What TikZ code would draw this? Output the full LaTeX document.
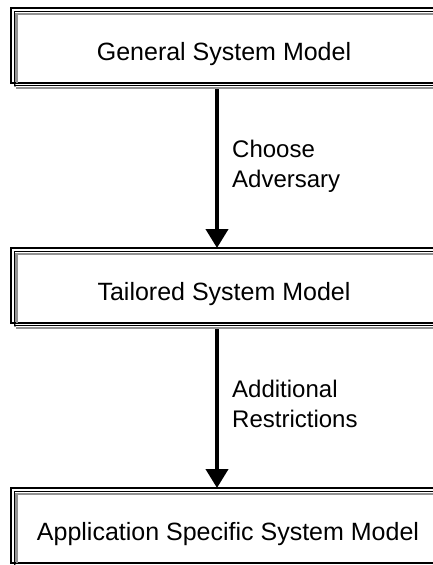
\documentclass[tikz,border=0pt]{standalone}
\usepackage{fontspec}
\setmainfont{Liberation Sans}
\usetikzlibrary{arrows.meta}
\tikzset{
  boxtext/.style={anchor=base, inner sep=0pt, font=\fontsize{25}{30}\selectfont},
  sidetext/.style={anchor=base west, inner sep=0pt, font=\fontsize{24}{29}\selectfont},
  flow/.style={line width=4pt, -{Triangle[width=22pt,length=19pt]}, shorten <=0pt},
  outerline/.style={line width=2.2pt, black},
  innerline/.style={line width=1pt, black},
  grayline/.style={line width=2pt, gray!85},
}
\newcommand{\modelframe}[2]{% top y, bottom y
  \draw[grayline] (16,#2+5) -- (450,#2+5);
  \draw[grayline] (15,#2+4) -- (15,#1+5);
  \draw[outerline] (450,#1) -- (11,#1) -- (11,#2) -- (450,#2);
  \draw[innerline] (450,#1+3) -- (14,#1+3) -- (14,#2+2) -- (450,#2+2);
  \draw[grayline] (450,#1+5.5) -- (16.5,#1+5.5) -- (16.5,#2);
}
\begin{document}
\begin{tikzpicture}[x=1pt,y=-1pt]
\useasboundingbox (0,0) rectangle (433,565);
\clip (0,0) rectangle (433,565);
\fill[white] (0,0) rectangle (433,565);
% boxes
\modelframe{8}{83}
\modelframe{248}{323}
\modelframe{488}{563}
\node[boxtext] (gsm) at (224,60) {General System Model};
\node[boxtext] (tsm) at (224,300) {Tailored System Model};
\node[boxtext] (asm) at (228,540) {Application Specific System Model};
\coordinate (b1) at (217,89);
\coordinate (t2) at (217,248);
\coordinate (b2) at (217,329);
\coordinate (t3) at (217,488);
\draw[flow] (b1) -- (t2);
\draw[flow] (b2) -- (t3);
\node[sidetext] (c1) at (232,157) {Choose};
\node[sidetext] (c2) at (232,187) {Adversary};
\node[sidetext] (r1) at (232,397) {Additional};
\node[sidetext] (r2) at (232,427) {Restrictions};
\end{tikzpicture}
\end{document}
